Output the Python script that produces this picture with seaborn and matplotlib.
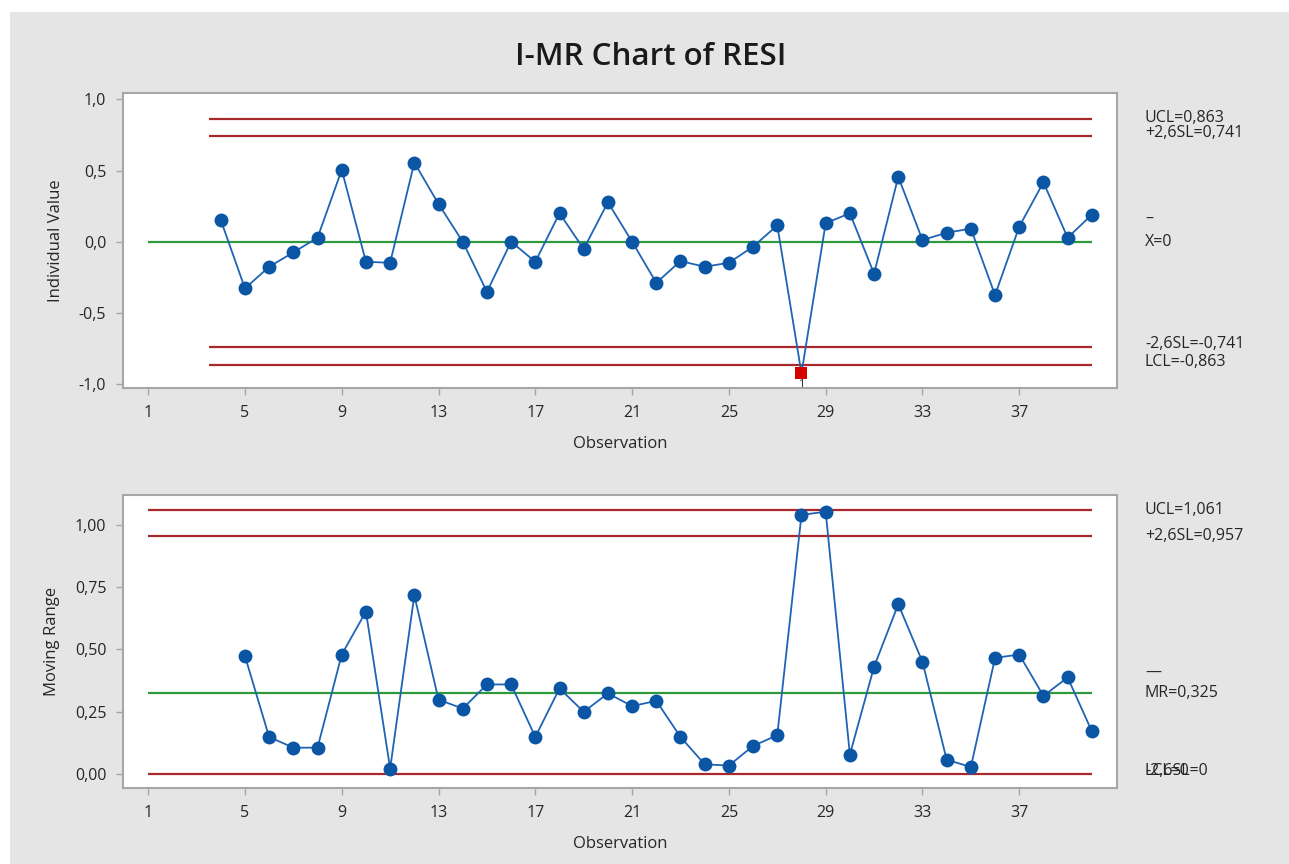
import matplotlib
matplotlib.use("Agg")
import matplotlib.pyplot as plt
import matplotlib.transforms as mtransforms
from matplotlib.patches import Rectangle
from matplotlib.ticker import FuncFormatter, FixedLocator
import pandas as pd
import seaborn as sns

# ---------------- data ----------------
observations = list(range(4, 41))
individual_values = [0.153, -0.328, -0.176, -0.075, 0.028, 0.505, -0.141, -0.148, 0.556, 0.265,
                     0.000, -0.352, 0.000, -0.141, 0.200, -0.051, 0.277, 0.000, -0.289, -0.136,
                     -0.176, -0.148, -0.035, 0.115, -0.925, 0.130, 0.200, -0.225, 0.456, 0.012,
                     0.063, 0.092, -0.375, 0.106, 0.418, 0.028, 0.190]
mr_observations = list(range(5, 41))
moving_ranges = [0.473, 0.148, 0.105, 0.105, 0.479, 0.652, 0.021, 0.717, 0.298, 0.262,
                 0.359, 0.359, 0.148, 0.343, 0.249, 0.323, 0.272, 0.293, 0.148, 0.038,
                 0.033, 0.112, 0.155, 1.040, 1.053, 0.077, 0.430, 0.681, 0.450, 0.057,
                 0.027, 0.466, 0.479, 0.313, 0.387, 0.171]
failed_obs = [28]
failed_labels = ["1"]

i_center = 0.0
i_limit_values = [0.863, 0.741, -0.741, -0.863]
i_limit_labels = ["UCL=0,863", "+2,6SL=0,741", "-2,6SL=-0,741", "LCL=-0,863"]
mr_center = 0.325
mr_limit_values = [1.061, 0.957, 0.0]
mr_limit_labels = ["UCL=1,061", "+2,6SL=0,957", "LCL=0"]
mr_extra_label = "-2,6SL=0"

x_ticks = [1, 5, 9, 13, 17, 21, 25, 29, 33, 37]
i_yticks = [-1.0, -0.5, 0.0, 0.5, 1.0]
mr_yticks = [0.0, 0.25, 0.5, 0.75, 1.0]

title = "I-MR Chart of RESI"

# ---------------- style ----------------
sns.set_theme(style="white")
plt.rcParams["font.family"] = ["Open Sans", "DejaVu Sans"]

BLUE = "#0a56a5"
LINE_BLUE = "#1e64b4"
RED = "#a8282c"
GREEN = "#2e9a3c"
BG = "#e5e5e5"
SPINE = "#a6a6a6"
TXT = "#262626"

W, H = 1289, 864
fig = plt.figure(figsize=(W / 100, H / 100), dpi=100, facecolor="white")
bg = Rectangle((10 / W, 0), 1, 1 - 12 / H, transform=fig.transFigure,
               facecolor=BG, edgecolor="none", zorder=-10)
fig.patches.append(bg)


def px_axes(l, t, r, b):
    return fig.add_axes([l / W, 1 - b / H, (r - l) / W, (b - t) / H])


ax1 = px_axes(123, 93, 1117, 388)
ax2 = px_axes(123, 495, 1117, 788)

df_i = pd.DataFrame({"Observation": observations, "Value": individual_values})
df_mr = pd.DataFrame({"Observation": mr_observations, "MR": moving_ranges})
df_fail = df_i[df_i["Observation"].isin(failed_obs)]
df_ok = df_i[~df_i["Observation"].isin(failed_obs)]

x_first = observations[0]
x_last = observations[-1]

# ----- I chart -----
ax1.hlines(i_limit_values, x_first - 0.5, x_last, colors=RED, lw=1.6, zorder=2)
ax1.hlines([i_center], 1, x_last, colors=GREEN, lw=1.6, zorder=2)
sns.lineplot(data=df_i, x="Observation", y="Value", ax=ax1, color=LINE_BLUE, lw=1.3,
             zorder=3, legend=False)
sns.scatterplot(data=df_ok, x="Observation", y="Value", ax=ax1, color=BLUE, s=100,
                marker="o", edgecolor=BLUE, linewidth=0, zorder=4, legend=False)
sns.scatterplot(data=df_fail, x="Observation", y="Value", ax=ax1, color="#d40000", s=80,
                marker="s", edgecolor="#d40000", linewidth=0, zorder=5, legend=False)
for o, lab in zip(failed_obs, failed_labels):
    ax1.text(o, -1.0, lab, ha="center", va="center", fontsize=8, color=TXT, zorder=6)

# ----- MR chart -----
ax2.hlines(mr_limit_values, 1, x_last, colors=RED, lw=1.6, zorder=2)
ax2.hlines([mr_center], 1, x_last, colors=GREEN, lw=1.6, zorder=2)
sns.lineplot(data=df_mr, x="Observation", y="MR", ax=ax2, color=LINE_BLUE, lw=1.3,
             zorder=3, legend=False)
sns.scatterplot(data=df_mr, x="Observation", y="MR", ax=ax2, color=BLUE, s=100,
                marker="o", edgecolor=BLUE, linewidth=0, zorder=4, legend=False)

# ----- axes formatting -----
ax1.set_ylim(-1.028, 1.045)
ax2.set_ylim(-0.057, 1.120)
for ax, ticks, fmt, ylabel in [(ax1, i_yticks, "{:.1f}", "Individual Value"),
                               (ax2, mr_yticks, "{:.2f}", "Moving Range")]:
    ax.set_xlim(-0.04, 41.04)
    ax.set_facecolor("white")
    ax.xaxis.set_major_locator(FixedLocator(x_ticks))
    ax.yaxis.set_major_locator(FixedLocator(ticks))
    ax.yaxis.set_major_formatter(FuncFormatter(lambda v, p, f=fmt: f.format(v).replace(".", ",")))
    ax.tick_params(axis="both", which="major", direction="out", length=5, width=1,
                   color=SPINE, labelcolor=TXT, labelsize=11.5, pad=7,
                   bottom=True, left=True)
    for s in ax.spines.values():
        s.set_color(SPINE)
        s.set_linewidth(1.5)
    ax.set_xlabel("Observation", fontsize=12, color=TXT, labelpad=11)
    ax.set_ylabel(ylabel, fontsize=12, color=TXT, labelpad=11)
    ax.grid(False)

# ----- right-hand labels -----
lx = (1145 - 123) / (1117 - 123)
tr1 = mtransforms.blended_transform_factory(ax1.transAxes, ax1.transData)
tr2 = mtransforms.blended_transform_factory(ax2.transAxes, ax2.transData)
FS = 11.5
offs1 = [0.008, 0.025, 0.025, 0.015]
for v, lab, o in zip(i_limit_values, i_limit_labels, offs1):
    ax1.text(lx, v + o, lab, transform=tr1, ha="left", va="center", fontsize=FS, color=TXT,
             clip_on=False)
ax1.text(lx, i_center + 0.16, "–", transform=tr1, ha="left", va="center", fontsize=FS,
         color=TXT, clip_on=False)
ax1.text(lx, i_center, "X=0", transform=tr1, ha="left", va="center", fontsize=FS, color=TXT,
         clip_on=False)

offs2 = [0.0, 0.0, 0.012]
for v, lab, o in zip(mr_limit_values, mr_limit_labels, offs2):
    ax2.text(lx, v + o, lab, transform=tr2, ha="left", va="center", fontsize=FS, color=TXT,
             clip_on=False)
ax2.text(lx, mr_limit_values[-1] + 0.012, mr_extra_label, transform=tr2, ha="left",
         va="center", fontsize=FS, color=TXT, clip_on=False)
ax2.text(lx, mr_center + 0.08, "—", transform=tr2, ha="left", va="center", fontsize=FS,
         color=TXT, clip_on=False)
ax2.text(lx, mr_center, "MR=0,325", transform=tr2, ha="left", va="center", fontsize=FS,
         color=TXT, clip_on=False)

fig.text(651 / W, 1 - 57 / H, title, ha="center", va="center", fontsize=22.5,
         fontweight="semibold", color="#1a1a1a")

fig.savefig("out.png", dpi=100, facecolor=fig.get_facecolor())
